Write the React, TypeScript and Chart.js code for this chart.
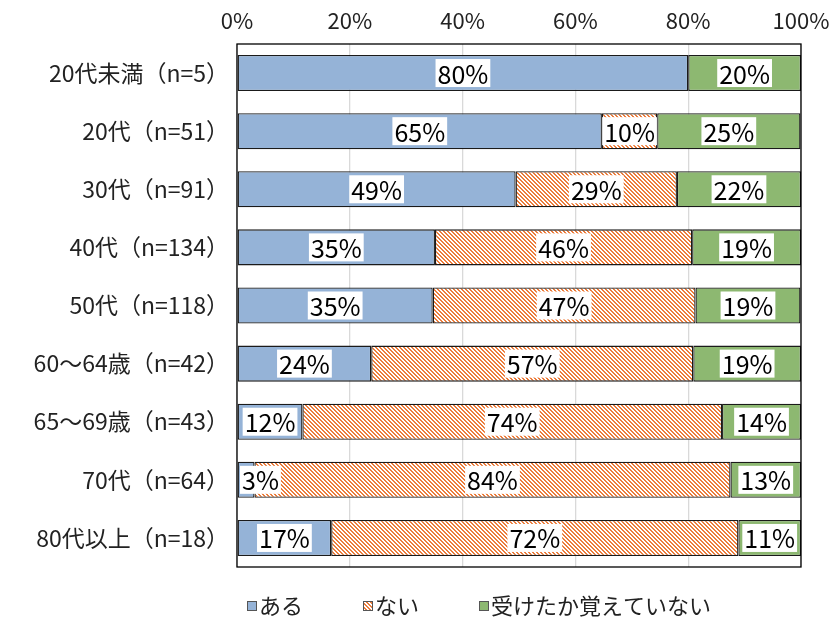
import React, { useEffect, useRef } from "react";
import { Chart, registerables } from "chart.js";

Chart.register(...registerables);

const categories = [
  "20代未満（n=5）",
  "20代（n=51）",
  "30代（n=91）",
  "40代（n=134）",
  "50代（n=118）",
  "60～64歳（n=42）",
  "65～69歳（n=43）",
  "70代（n=64）",
  "80代以上（n=18）",
];
const seriesNames = ["ある", "ない", "受けたか覚えていない"];
const aruValues = [80.0, 64.7, 49.4, 35.1, 34.7, 23.8, 11.6, 3.1, 16.7];
const naiValues = [0.0, 9.8, 28.6, 45.6, 46.6, 57.1, 74.4, 84.4, 72.2];
const oboeValues = [20.0, 25.4, 22.0, 19.3, 18.6, 19.1, 14.0, 12.5, 11.1];
const xTicks = [0, 20, 40, 60, 80, 100];

const FONT = "'Noto Sans CJK JP', 'Noto Sans', sans-serif";
const BLUE = "#95B3D7";
const ORANGE = "#EC7D3C";
const GREEN = "#8DB871";

function makeHatch(): CanvasPattern | string {
  const c = document.createElement("canvas");
  c.width = 4;
  c.height = 4;
  const g = c.getContext("2d");
  if (!g) return ORANGE;
  g.fillStyle = "#ffffff";
  g.fillRect(0, 0, 4, 4);
  g.fillStyle = ORANGE;
  for (let y = 0; y < 4; y++) {
    for (let x = 0; x < 4; x++) {
      const d = (((x - y) % 4) + 4) % 4;
      if (d === 0 || d === 1) g.fillRect(x, y, 1, 1);
    }
  }
  const p = g.createPattern(c, "repeat");
  return p || ORANGE;
}

const borderPlugin = {
  id: "plotBorder",
  afterDatasetsDraw(chart: any) {
    const { ctx, chartArea } = chart;
    ctx.save();
    ctx.strokeStyle = "#000";
    ctx.lineWidth = 1.3;
    ctx.strokeRect(chartArea.left, chartArea.top, chartArea.right - chartArea.left, chartArea.bottom - chartArea.top);
    ctx.restore();
  },
};

const labelPlugin = {
  id: "boxLabels",
  afterDatasetsDraw(chart: any) {
    const { ctx, chartArea } = chart;
    ctx.save();
    ctx.font = `25px ${FONT}`;
    ctx.textAlign = "center";
    ctx.textBaseline = "middle";
    chart.data.datasets.forEach((ds: any, di: number) => {
      const meta = chart.getDatasetMeta(di);
      meta.data.forEach((bar: any, i: number) => {
        const v = ds.data[i];
        if (!v) return;
        const text = `${Math.round(v)}%`;
        const w = ctx.measureText(text).width;
        const left = Math.min(bar.base, bar.x);
        const right = Math.max(bar.base, bar.x);
        let cx = (left + right) / 2;
        const bw = w + 4;
        if (cx - bw / 2 < chartArea.left + 3) cx = chartArea.left + 3 + bw / 2;
        if (cx + bw / 2 > chartArea.right - 3) cx = chartArea.right - 3 - bw / 2;
        const cy = bar.y;
        ctx.fillStyle = "#fff";
        ctx.fillRect(cx - bw / 2, cy - 14, bw, 28);
        ctx.fillStyle = "#000";
        ctx.fillText(text, cx, cy + 1);
      });
    });
    ctx.restore();
  },
};

const legendPlugin = {
  id: "customLegend",
  afterDraw(chart: any) {
    const { ctx } = chart;
    ctx.save();
    ctx.font = `22px ${FONT}`;
    ctx.textBaseline = "middle";
    ctx.textAlign = "left";
    let x = 247;
    const y = 606;
    chart.data.datasets.forEach((ds: any) => {
      ctx.fillStyle = ds.backgroundColor;
      ctx.fillRect(x, y - 5, 9, 9);
      ctx.strokeStyle = "#555";
      ctx.lineWidth = 1;
      ctx.strokeRect(x + 0.5, y - 4.5, 9, 9);
      const tx = x + 12;
      ctx.fillStyle = "#222";
      ctx.fillText(ds.label, tx, y);
      x = tx + ctx.measureText(ds.label).width + 60;
    });
    ctx.restore();
  },
};

export default function App() {
  const ref = useRef<HTMLCanvasElement | null>(null);
  useEffect(() => {
    if (!ref.current) return;
    const hatch = makeHatch();
    const chart = new Chart(ref.current, {
      type: "bar",
      data: {
        labels: categories,
        datasets: [
          { label: seriesNames[0], data: aruValues, backgroundColor: BLUE },
          { label: seriesNames[1], data: naiValues, backgroundColor: hatch as any },
          { label: seriesNames[2], data: oboeValues, backgroundColor: GREEN },
        ].map((d) => ({
          ...d,
          borderColor: "#1a1a1a",
          borderWidth: 1.3,
          borderSkipped: false,
          categoryPercentage: 1,
          barPercentage: 0.62,
        })),
      },
      options: {
        indexAxis: "y",
        animation: false,
        responsive: false,
        maintainAspectRatio: false,
        layout: { padding: { left: 0, right: 34, top: 0, bottom: 52 } },
        plugins: {
          legend: { display: false },
          tooltip: { enabled: false },
        },
        scales: {
          x: {
            position: "top",
            stacked: true,
            min: 0,
            max: 100,
            afterBuildTicks(axis: any) {
              axis.ticks = xTicks.map((v) => ({ value: v }));
            },
            afterFit(axis: any) {
              axis.height = 44;
              axis.paddingLeft = 0;
              axis.paddingRight = 0;
            },
            grid: { color: "#D9D9D9", lineWidth: 1.3, drawTicks: false },
            border: { display: false },
            ticks: {
              padding: 10,
              color: "#222",
              font: { family: FONT, size: 22 },
              maxRotation: 0,
              callback: (v: any) => `${v}%`,
            },
          },
          y: {
            stacked: true,
            afterFit(axis: any) {
              axis.width = 237;
            },
            grid: { display: false, drawTicks: false },
            border: { display: false },
            ticks: {
              padding: 8,
              color: "#222",
              font: { family: FONT, size: 23 },
            },
          },
        },
      },
      plugins: [borderPlugin, labelPlugin, legendPlugin],
    } as any);
    return () => chart.destroy();
  }, []);
  return (
    <div style={{ position: "fixed", left: 0, top: 0, width: 835, height: 619, background: "#fff" }}>
      <canvas ref={ref} width={835} height={619} style={{ display: "block", width: 835, height: 619 }} />
    </div>
  );
}
